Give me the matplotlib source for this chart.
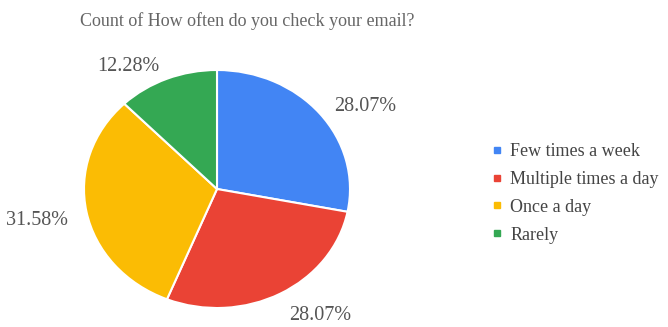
import numpy as np
import matplotlib
matplotlib.use("Agg")
import matplotlib.pyplot as plt
import matplotlib.transforms as mtransforms
from matplotlib.lines import Line2D

plt.rcParams['font.family'] = ['Liberation Serif', 'DejaVu Serif']

title = "Count of How often do you check your email?"
categories = ["Few times a week", "Multiple times a day", "Once a day", "Rarely"]
counts = [16, 16, 18, 7]
colors = ["#4285F4", "#EA4335", "#FBBC04", "#34A853"]

W, H = 668, 327
fig = plt.figure(figsize=(W / 100, H / 100), dpi=100)
fig.patch.set_facecolor("white")

# Pie area in pixels: centre and horizontal / vertical radii
cx, cy, rx, ry = 217, 189, 133, 119
ax = fig.add_axes([(cx - rx) / W, (H - cy - ry) / H, 2 * rx / W, 2 * ry / H])
ax.axis("off")

wedges, _ = ax.pie(counts, colors=colors, startangle=90, counterclock=False,
                   radius=1.0, wedgeprops=dict(edgecolor="white", linewidth=1.5))
ax.set_aspect("auto")
ax.set_xlim(-1, 1)
ax.set_ylim(-1, 1)

# Percentage labels just outside each slice
label_tf = mtransforms.offset_copy(ax.transData, fig=fig, x=0, y=-5, units="dots")
total = sum(counts)
for w, c in zip(wedges, counts):
    mid = np.deg2rad((w.theta1 + w.theta2) / 2)
    x, y = 1.14 * np.cos(mid), 1.16 * np.sin(mid)
    ha = "left" if x > 0 else "right"
    ax.text(x, y, f"{100 * c / total:.2f}%", ha=ha, va="center",
            fontsize=14.5, color="#555555", clip_on=False, transform=label_tf)

fig.text(80 / W, 1 - 21 / H, title, ha="left", va="center",
         fontsize=13, color="#666666")

handles = [Line2D([], [], marker="s", linestyle="none", markersize=5,
                  markerfacecolor=c, markeredgecolor=c) for c in colors]
leg = fig.legend(handles, categories, loc="upper left",
                 bbox_to_anchor=(483 / W, 1 - 134 / H), frameon=False,
                 fontsize=13, handlelength=0.6, handletextpad=0.4,
                 labelspacing=0.6, borderpad=0)
for t in leg.get_texts():
    t.set_color("#444444")

fig.savefig("out.png", dpi=100, facecolor="white")
